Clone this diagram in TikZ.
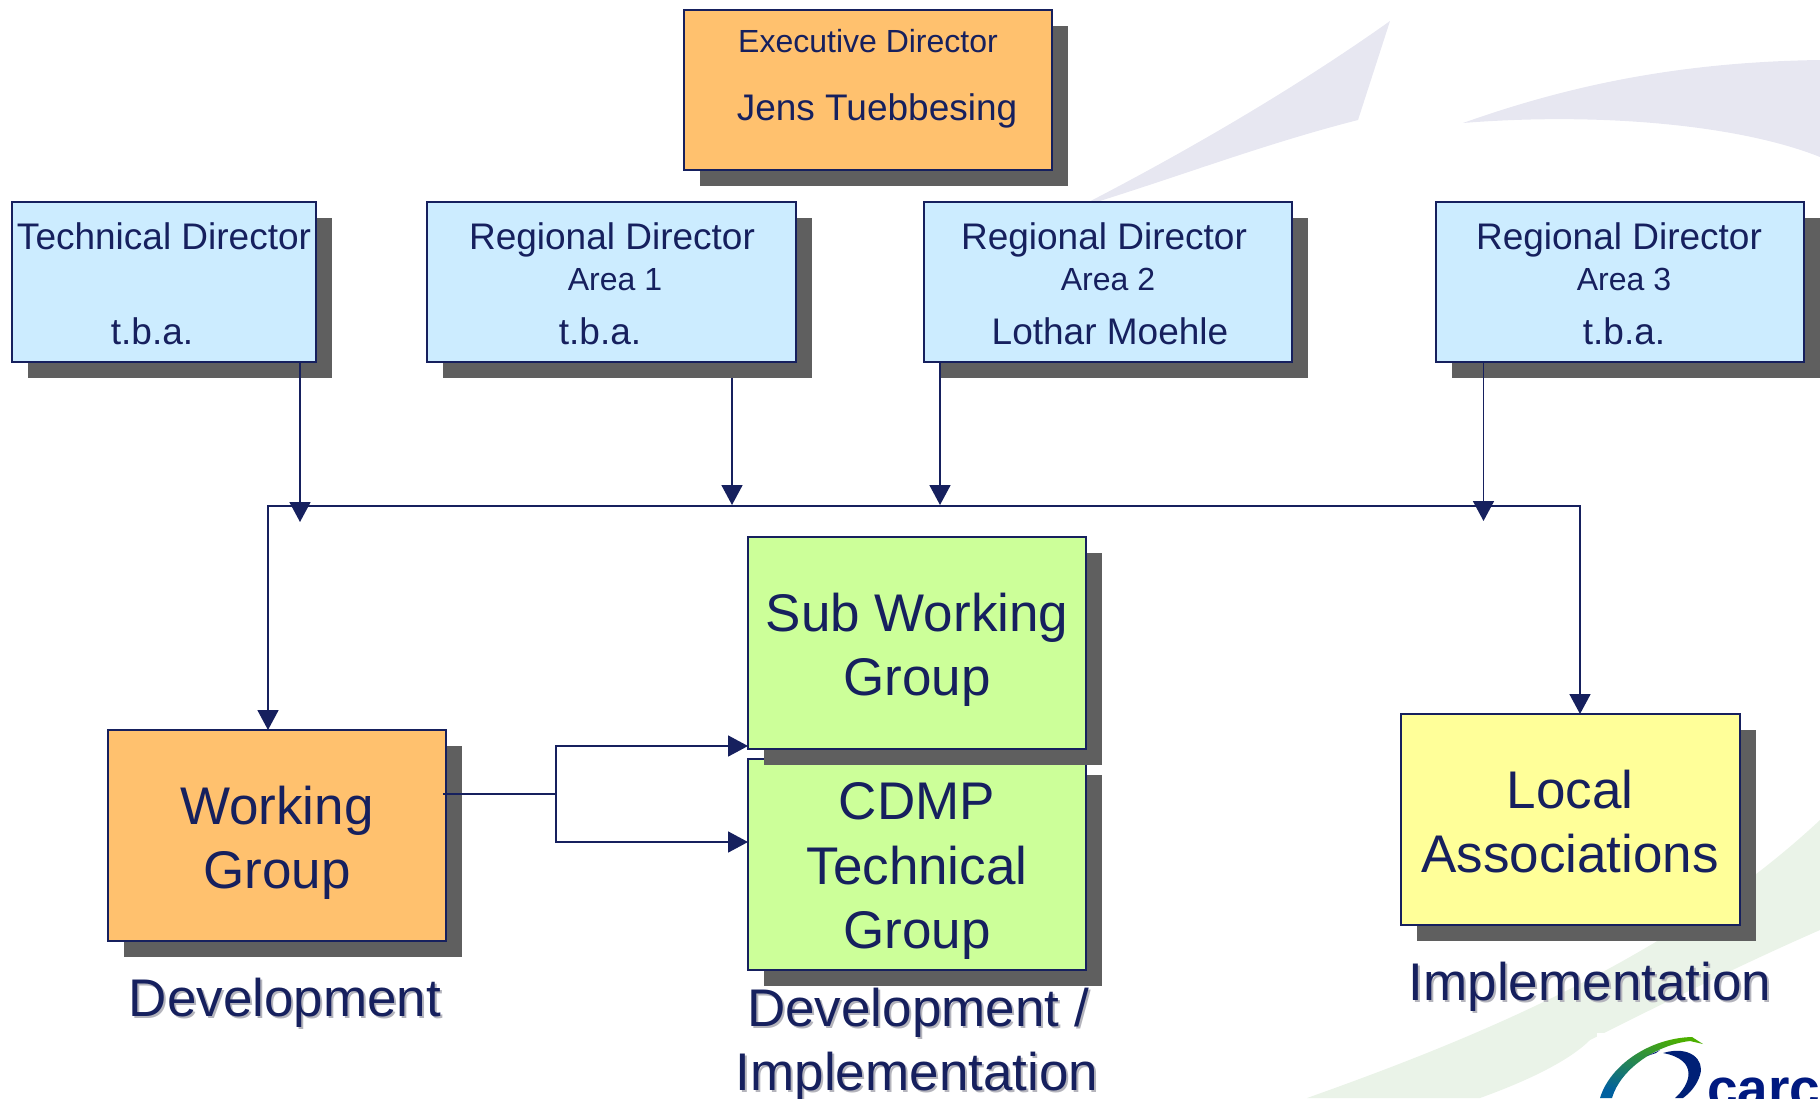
\documentclass[tikz,border=0pt]{standalone}
\usepackage{fontspec}
\setmainfont{Liberation Sans}
\usetikzlibrary{arrows.meta,calc}
\definecolor{ink}{HTML}{16205E}
\definecolor{shade}{HTML}{5F5F5F}
\definecolor{orangebox}{HTML}{FFC16E}
\definecolor{bluebox}{HTML}{CCECFF}
\definecolor{greenbox}{HTML}{CCFF99}
\definecolor{yellowbox}{HTML}{FFFF99}
\definecolor{swooshgrey}{HTML}{E7E7F1}
\definecolor{swooshgreen}{HTML}{EAF3E8}
\definecolor{textshade}{HTML}{B4B4BC}
\tikzset{
  shadowbox/.style={fill=shade,draw=none,inner sep=0pt,outer sep=0pt},
  orgbox/.style={draw=ink,line width=1.7pt,inner sep=0pt,outer sep=0pt},
  txt/.style={anchor=base,text=ink,inner sep=0pt,outer sep=0pt},
  big/.style={txt,font=\fontsize{53}{53}\selectfont},
  mid/.style={txt,font=\fontsize{37}{37}\selectfont},
  small/.style={txt,font=\fontsize{32}{32}\selectfont},
  link/.style={draw=ink,line width=1.7pt},
  arr/.style={link,-{Triangle[length=20pt,width=21pt]}},
  biarr/.style={link,{Triangle[length=20pt,width=21pt]}-{Triangle[length=20pt,width=21pt]}}
}
\newcommand\orgrect[6]{%
  \pgfmathsetmacro\bw{#4-#2}\pgfmathsetmacro\bh{#5-#3}%
  \pgfmathsetmacro\cx{(#2+#4)/2}\pgfmathsetmacro\cy{(#3+#5)/2}%
  \node[shadowbox,minimum width=\bw pt,minimum height=\bh pt] (#1-s) at (\cx+15.5,\cy+15.5) {};
  \node[orgbox,fill=#6,minimum width=\bw pt,minimum height=\bh pt] (#1) at (\cx,\cy) {};
}
\newcommand\shadowtext[1]{\leavevmode\rlap{\kern2pt\raisebox{-2pt}{\textcolor{textshade}{#1}}}#1}
\begin{document}
\begin{tikzpicture}[x=1pt,y=-1pt]
\useasboundingbox (0,0) rectangle (1820,1098);
\clip (0,0) rectangle (1820,1098);
% background swooshes
\fill[swooshgrey] (1077,208) .. controls (1190,150) and (1300,85) .. (1390,21)
  -- (1358,120) .. controls (1260,145) and (1170,180) .. (1077,208) -- cycle;
\fill[swooshgrey] (1463,123) .. controls (1570,85) and (1680,62) .. (1820,60)
  -- (1820,157) .. controls (1740,125) and (1600,112) .. (1463,123) -- cycle;
\fill[swooshgreen] (1307,1098) .. controls (1470,1040) and (1670,960) .. (1820,820)
  -- (1820,930) .. controls (1740,965) and (1660,1005) .. (1590,1040)
  .. controls (1570,1060) and (1530,1080) .. (1480,1098) -- cycle;
% logo
\fill[white] (1597,1033) rectangle (1820,1098);
\shade[top color=green!55!black!70!yellow,bottom color=teal!75!blue,shading angle=-20]
  (1600,1098) .. controls (1610,1065) and (1650,1038) .. (1692,1037) -- (1703,1044)
  -- (1690,1041) .. controls (1655,1045) and (1620,1070) .. (1612,1098) -- cycle;
\fill[blue!45!black!75!teal] (1647,1056) -- (1660,1050) -- (1656,1053) -- cycle;
\fill[blue!45!black!75!teal] (1663,1053) .. controls (1690,1045) and (1705,1060) .. (1700,1075)
  .. controls (1697,1085) and (1690,1093) .. (1683,1098) -- (1675,1098)
  .. controls (1690,1085) and (1700,1060) .. (1663,1053) -- cycle;
\node[anchor=base west,inner sep=0pt,text=blue!50!black!80!teal,font=\fontsize{55}{55}\selectfont\bfseries] (logotext) at (1707,1107) {carc};
% boxes
\orgrect{exec}{684}{10}{1052}{170}{orangebox}
\orgrect{tech}{12}{202}{316}{362}{bluebox}
\orgrect{rdone}{427}{202}{796}{362}{bluebox}
\orgrect{rdtwo}{924}{202}{1292}{362}{bluebox}
\orgrect{rdthree}{1436}{202}{1804}{362}{bluebox}
\orgrect{cdmp}{748}{759}{1086}{970}{greenbox}
\orgrect{sub}{748}{537}{1086}{749}{greenbox}
\orgrect{wg}{108}{730}{446}{941}{orangebox}
\orgrect{la}{1401}{714}{1740}{925}{yellowbox}
% connector points
\coordinate (busL) at (268,506);
\coordinate (busR) at (1580,506);
\coordinate (tipT) at (300,522);
\coordinate (tipA) at (732,505);
\coordinate (tipB) at (940,505);
\coordinate (tipC) at (1483.5,521);
\coordinate (jct) at (556,794);
\coordinate (wgout) at (443,794);
\coordinate (inSub) at (748,746);
\coordinate (inCdmp) at (748,842);
% connectors
\draw[biarr] (wg.north -| busL) -- (busL) -- (busR) -- (la.north -| busR);
\draw[arr] (tech.south -| tipT) -- (tipT);
\draw[arr] (rdone-s.south -| tipA) -- (tipA);
\draw[arr] (rdtwo.south -| tipB) -- (tipB);
\draw[arr] (rdthree.south -| tipC) -- (tipC);
\draw[link] (wgout) -- (jct);
\draw[arr] (jct) |- (inSub);
\draw[arr] (jct) |- (inCdmp);
% texts
\node[small] (t1) at (868,52) {Executive Director};
\node[mid] (t2) at (877,120) {Jens Tuebbesing};
\node[mid] (t3) at (164,249) {Technical Director};
\node[mid] (t4) at (152,344) {t.b.a.};
\node[mid] (t5) at (612,249) {Regional Director};
\node[small] (t6) at (615,290) {Area 1};
\node[mid] (t7) at (600,344) {t.b.a.};
\node[mid] (t8) at (1104,249) {Regional Director};
\node[small] (t9) at (1108,290) {Area 2};
\node[mid] (t10) at (1110,344) {Lothar Moehle};
\node[mid] (t11) at (1619,249) {Regional Director};
\node[small] (t12) at (1624,290) {Area 3};
\node[mid] (t13) at (1624,344) {t.b.a.};
\node[big] (t14) at (917,631) {Sub Working};
\node[big] (t15) at (917,695) {Group};
\node[big] (t16) at (917,819) {CDMP};
\node[big] (t17) at (917,884) {Technical};
\node[big] (t18) at (917,948) {Group};
\node[big] (t19) at (277,824) {Working};
\node[big] (t20) at (277,888) {Group};
\node[big] (t21) at (1570,808) {Local};
\node[big] (t22) at (1570,872) {Associations};
\node[big] (t23) at (285,1016) {\shadowtext{Development}};
\node[big] (t24) at (918,1026) {\shadowtext{Development /}};
\node[big] (t25) at (917,1090) {\shadowtext{Implementation}};
\node[big] (t26) at (1590,1000) {\shadowtext{Implementation}};
\end{tikzpicture}
\end{document}
